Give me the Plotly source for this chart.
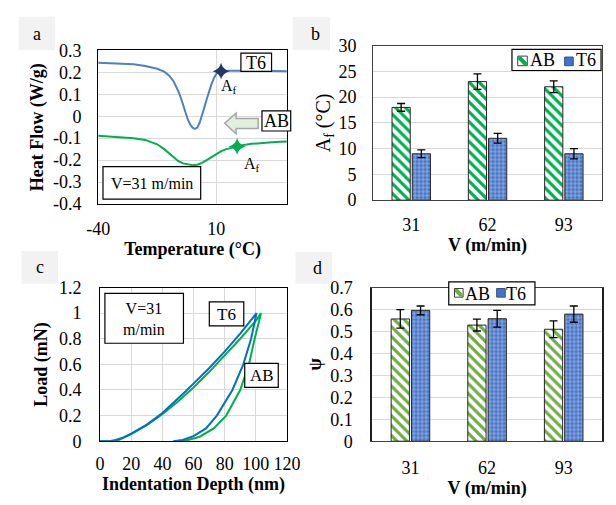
import plotly.graph_objects as go

W, H = 616, 505

# ---------------- data ----------------
# Panel a: DSC heat flow curves
temp_t6 = [-40, -30, -25, -20, -15, -12, -10, -8, -7, -6, -5, -4, -3, -2, -1, 0, 1, 2, 3, 4, 5, 6, 7, 8, 9, 10,
           11, 12, 15, 20, 25, 30, 35, 40]
hf_t6 = [0.243, 0.240, 0.237, 0.229, 0.216, 0.203, 0.186, 0.158, 0.138, 0.113, 0.085, 0.05, 0.015, -0.015,
         -0.038, -0.052, -0.058, -0.052, -0.03, 0.0, 0.04, 0.077, 0.113, 0.145, 0.172, 0.192,
         0.200, 0.204, 0.207, 0.208, 0.208, 0.207, 0.206, 0.205]
temp_ab = [-40, -30, -25, -20, -15, -12, -10, -8, -6, -4, -2, 0, 2, 4, 6, 8, 10, 12, 14, 16, 18, 20, 25, 30, 35, 40]
hf_ab = [-0.089, -0.095, -0.100, -0.108, -0.128, -0.150, -0.168, -0.190, -0.205, -0.215, -0.220, -0.223, -0.221,
         -0.213, -0.200, -0.186, -0.172, -0.160, -0.151, -0.145, -0.139, -0.134, -0.126, -0.121, -0.118, -0.115]
af_t6_x, af_t6_y = [12.1], [0.205]
af_ab_x, af_ab_y = [18.9], [-0.138]
a_yticks = [-0.4, -0.3, -0.2, -0.1, 0, 0.1, 0.2, 0.3]
a_yticktext = ["-0.4", "-0.3", "-0.2", "-0.1", "0", "0.1", "0.2", "0.3"]
a_xticks = [-40, 10]
a_xticktext = ["-40", "10"]

# Panel b / d: bar charts
speeds = ["31", "62", "93"]
af_ab = [18.0, 23.0, 22.0]
af_ab_err = [0.75, 1.5, 1.15]
af_t6 = [9.0, 12.0, 9.0]
af_t6_err = [0.75, 0.95, 1.0]
psi_ab = [0.557, 0.529, 0.51]
psi_ab_err = [0.042, 0.027, 0.038]
psi_t6 = [0.596, 0.558, 0.579]
psi_t6_err = [0.02, 0.038, 0.037]
series_names = ["AB", "T6"]

# Panel c: nanoindentation load-depth curves (loading then unloading)
depth_t6 = [0, 6, 10, 15, 20, 30, 40, 50, 55, 60, 70, 80, 90, 100.5,
            97, 92, 85, 75, 68, 60, 53, 47]
load_t6 = [0, 0, 0.01, 0.03, 0.06, 0.13, 0.22, 0.33, 0.39, 0.45, 0.57, 0.70, 0.84, 1.0,
           0.8, 0.6, 0.4, 0.2, 0.1, 0.04, 0.01, 0]
depth_ab = [0, 8, 12, 20, 30, 40, 50, 60, 70, 80, 90, 100, 103.4,
            99.3, 95.6, 90, 81, 73, 64, 56, 51]
load_ab = [0, 0, 0.01, 0.055, 0.125, 0.21, 0.31, 0.42, 0.54, 0.67, 0.80, 0.94, 1.0,
           0.8, 0.6, 0.4, 0.2, 0.1, 0.035, 0.008, 0]

# ---------------- helpers ----------------
def px(x):
    return x / W

def py(y):
    return 1 - y / H

FONT = "Liberation Serif"
GRID = "#d9d9d9"
BLUE_A = "#4f81bd"
BLUE_C = "#0070c0"
GREEN = "#00b050"
GREEN_D = "#70ad47"
T6_BAR = "#4472c4"

fig = go.Figure()

# Panel a traces
fig.add_trace(go.Scatter(x=temp_t6, y=hf_t6, mode="lines", line=dict(color=BLUE_A, width=2),
                         xaxis="x", yaxis="y", showlegend=False))
fig.add_trace(go.Scatter(x=temp_ab, y=hf_ab, mode="lines", line=dict(color=GREEN, width=2),
                         xaxis="x", yaxis="y", showlegend=False))
fig.add_trace(go.Scatter(x=af_t6_x, y=af_t6_y, mode="markers",
                         marker=dict(symbol="star-diamond", size=12, color="#1f3864"),
                         xaxis="x", yaxis="y", showlegend=False))
fig.add_trace(go.Scatter(x=af_ab_x, y=af_ab_y, mode="markers",
                         marker=dict(symbol="star-diamond", size=12, color=GREEN),
                         xaxis="x", yaxis="y", showlegend=False))

# Panel b bars
def ab_pattern(color):
    return dict(shape="\\", fgcolor=color, bgcolor="white", size=7, solidity=0.45, fgopacity=1)

t6_pattern = dict(shape="+", fgcolor="#b4c9ee", bgcolor=T6_BAR, size=4, solidity=0.3, fgopacity=1)
err = dict(type="data", color="black", thickness=1.3, width=4)

fig.add_trace(go.Bar(x=speeds, y=af_ab, name=series_names[0], xaxis="x2", yaxis="y2", showlegend=False,
                     marker=dict(color="white", pattern=ab_pattern(GREEN), line=dict(color="#262626", width=1)),
                     error_y=dict(err, array=af_ab_err)))
fig.add_trace(go.Bar(x=speeds, y=af_t6, name=series_names[1], xaxis="x2", yaxis="y2", showlegend=False,
                     marker=dict(color=T6_BAR, pattern=t6_pattern, line=dict(color="#262626", width=1)),
                     error_y=dict(err, array=af_t6_err)))

# Panel c lines
fig.add_trace(go.Scatter(x=depth_ab, y=load_ab, mode="lines", line=dict(color=GREEN, width=2),
                         xaxis="x3", yaxis="y3", showlegend=False))
fig.add_trace(go.Scatter(x=depth_t6, y=load_t6, mode="lines", line=dict(color=BLUE_C, width=2),
                         xaxis="x3", yaxis="y3", showlegend=False))

# Panel d bars
fig.add_trace(go.Bar(x=speeds, y=psi_ab, name=series_names[0], xaxis="x4", yaxis="y4", showlegend=False,
                     marker=dict(color="white", pattern=ab_pattern(GREEN_D), line=dict(color="#262626", width=1)),
                     error_y=dict(err, array=psi_ab_err)))
fig.add_trace(go.Bar(x=speeds, y=psi_t6, name=series_names[1], xaxis="x4", yaxis="y4", showlegend=False,
                     marker=dict(color=T6_BAR, pattern=t6_pattern, line=dict(color="#262626", width=1)),
                     error_y=dict(err, array=psi_t6_err)))

tickfont = dict(family=FONT, size=18, color="black")
bold_title = dict(family=FONT, size=18, color="black", weight="bold")


def axis(domain, **kw):
    d = dict(domain=domain, showline=True, linecolor="black", linewidth=1, mirror=True,
             ticks="", tickfont=tickfont, gridcolor=GRID, gridwidth=1, zeroline=False,
             fixedrange=True)
    d.update(kw)
    return d

layout = dict(
    width=W, height=H, margin=dict(l=0, r=0, t=0, b=0),
    paper_bgcolor="white", plot_bgcolor="white",
    font=dict(family=FONT, size=18, color="black"),
    barmode="group", bargap=0.47, bargroupgap=0.1, showlegend=False,
    xaxis=axis([px(90), px(287)], anchor="y", range=[-40, 40], tickvals=a_xticks, ticktext=a_xticktext,
               showgrid=True, ticklabelstandoff=8,
               title=dict(text="Temperature (°C)", font=bold_title, standoff=4)),
    yaxis=axis([py(202), py(42)], anchor="x", range=[-0.4, 0.3], tickvals=a_yticks, ticktext=a_yticktext,
               ticklabelstandoff=12,
               title=dict(text="Heat Flow (W/g)", font=bold_title, standoff=4)),
    xaxis2=axis([px(377), 1.0], anchor="y2", showgrid=False, linecolor="#404040", ticklabelstandoff=8,
                title=dict(text="V (m/min)", font=bold_title, standoff=4)),
    yaxis2=axis([py(198), py(37)], anchor="x2", range=[0, 30], dtick=5, linecolor="#404040",
                ticklabelstandoff=12,
                title=dict(text="A<sub>f</sub> (°C)", font=dict(family=FONT, size=20, color="black"), standoff=2)),
    xaxis3=axis([px(92), px(287)], anchor="y3", range=[0, 120], dtick=20, showgrid=True, ticklabelstandoff=6,
                title=dict(text="Indentation Depth (nm)", font=bold_title, standoff=2)),
    yaxis3=axis([py(449), py(289)], anchor="x3", range=[0, 1.2], dtick=0.2, ticklabelstandoff=14,
                title=dict(text="Load (mN)", font=bold_title, standoff=6)),
    xaxis4=axis([px(376), 1.0], anchor="y4", showgrid=False, linecolor="#404040", ticklabelstandoff=10,
                title=dict(text="V (m/min)", font=bold_title, standoff=2)),
    yaxis4=axis([py(449), py(289)], anchor="x4", range=[0, 0.7], dtick=0.1, linecolor="#202020",
                linewidth=1.5, ticklabelstandoff=14,
                title=dict(text="ψ", font=bold_title, standoff=4)),
)

shapes = []
annotations = []

def rect(x0, y0, x1, y1, fill, line_color=None, lw=0, layer="above"):
    shapes.append(dict(type="rect", xref="paper", yref="paper", x0=px(x0), x1=px(x1), y0=py(y1), y1=py(y0),
                       fillcolor=fill, line=dict(color=line_color or fill, width=lw), layer=layer))

def text(t, x, y, size=18, xanchor="center"):
    annotations.append(dict(text=t, xref="paper", yref="paper", x=px(x), y=py(y), xanchor=xanchor,
                            yanchor="middle", showarrow=False, font=dict(family=FONT, size=size, color="black")))

# panel letter boxes
for letter, (x0, y0, x1, y1) in zip("abcd", [(7, 7, 45, 42), (293, 7, 332, 42), (10, 251, 48, 285), (296, 252, 334, 285)]):
    rect(x0, y0, x1, y1, "#f2f2f2", layer="below")
    text(letter, (x0 + x1) / 2 + (4 if letter in "bd" else 0), (y0 + y1) / 2)

# arrow in panel a
ax = [222, 234, 234, 257, 257, 234, 234]
ay = [118, 107.5, 113, 113, 123.5, 123.5, 129]
path = "M " + " L ".join(f"{px(x):.5f},{py(y):.5f}" for x, y in zip(ax, ay)) + " Z"
shapes.append(dict(type="path", xref="paper", yref="paper", path=path, fillcolor="#e2efda",
                   line=dict(color="#a6a6a6", width=1.5)))


def box(t, x0, y0, x1, y1, size=18):
    rect(x0, y0, x1, y1, "white", "black", 1.2)
    text(t, (x0 + x1) / 2, (y0 + y1) / 2 + 0.5, size=size)

box("T6", 239, 45, 271, 64, size=18)
box("AB", 261, 105, 291, 126, size=18)
box("V=31 m/min", 95, 163, 197, 197, size=16)
box("V=31<br>m/min", 97, 295, 179, 347, size=16)
box("T6", 206, 304, 242, 329, size=17)
box("AB", 243, 368, 278, 393, size=17)

# A_f labels in panel a
annotations.append(dict(text="A<sub>f</sub>", x=15.4, y=0.135, xref="x", yref="y", showarrow=False,
                        font=dict(family=FONT, size=16, color="black")))
annotations.append(dict(text="A<sub>f</sub>", x=25.4, y=-0.218, xref="x", yref="y", showarrow=False,
                        font=dict(family=FONT, size=16, color="black")))


# custom legends (box, swatches, labels)
def legend(x0, y0, x1, y1, sw_ab, sw_t6, tx_ab, tx_t6, ab_color):
    rect(x0, y0, x1, y1, "white", "black", 1.2)
    a0, a1, b0, b1 = sw_ab
    rect(a0, b0, a1, b1, "white", "#404040", 1)
    shapes.append(dict(type="path", xref="paper", yref="paper",
                       path=f"M {px(a0+0.5)},{py(b0+0.5)} L {px(a0+3.5)},{py(b0+0.5)} L {px(a1-0.5)},{py(b1-3.5)} "
                            f"L {px(a1-0.5)},{py(b1-0.5)} L {px(a1-3.5)},{py(b1-0.5)} L {px(a0+0.5)},{py(b0+3.5)} Z",
                       fillcolor=ab_color, line=dict(width=0)))
    c0, c1, d0, d1 = sw_t6
    rect(c0, d0, c1, d1, T6_BAR, "#2f528f", 1)
    text(series_names[0], tx_ab, (y0 + y1) / 2 + 0.5, size=18, xanchor="left")
    text(series_names[1], tx_t6, (y0 + y1) / 2 + 0.5, size=18, xanchor="left")

legend(522, 41, 615, 63, (528, 538, 48, 58), (577, 586, 49, 58), 539, 587, GREEN)
legend(456, 283, 546, 307, (462, 471, 290, 299), (506, 515, 290, 299), 471, 514, GREEN_D)

layout["shapes"] = shapes
layout["annotations"] = annotations
fig.update_layout(**layout)

fig.write_html("out.html", config=dict(displayModeBar=False),
               post_script="document.body.style.margin='0';document.body.style.overflow='hidden';")
